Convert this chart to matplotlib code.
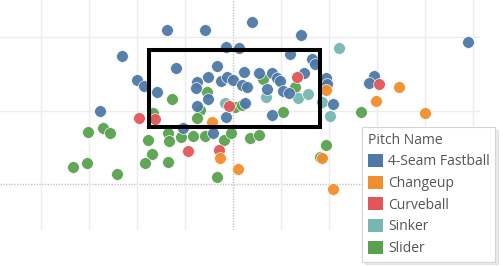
import matplotlib.pyplot as plt
import numpy as np
from matplotlib.patches import Patch, Rectangle

plt.rcParams['font.family'] = ['Open Sans', 'DejaVu Sans']

# horizontal / vertical break (inches)
fastball_x = [-6.85, -2.89, 2.00, 7.10, 24.48, -11.53, -0.71, 0.65, 5.95, 8.24, 8.56, -5.91,
              -1.64, 1.17, 2.73, 4.08, 4.60, 4.91, 7.41, 9.70, 9.81, -2.58, -3.73, -3.83,
              -1.23, -0.60, 0.02, 0.96, 1.48, -9.97, -9.24, -7.89, 3.56, 5.23, 5.85, -2.58,
              -3.73, 1.27, -0.71, 4.08, 10.43, -5.18, -2.06, -13.82, 14.70, 14.18]
fastball_y = [10.50, 10.50, 11.04, 10.16, 9.68, 8.73, 9.34, 9.27, 8.86, 8.52, 8.18, 7.91,
              8.04, 7.64, 7.57, 7.57, 7.23, 7.02, 7.57, 7.23, 6.82, 7.29, 6.95, 6.54,
              7.02, 7.29, 7.09, 6.75, 6.61, 7.09, 6.68, 6.27, 6.48, 6.34, 6.20, 5.79,
              5.32, 5.52, 4.57, 4.70, 5.45, 3.82, 3.48, 4.98, 7.36, 6.89]

changeup_x = [9.70, -2.17, -1.33, 0.54, 9.29, 10.43, 17.30, 14.91, 20.01]
changeup_y = [6.41, 4.23, 1.77, 1.02, 1.77, -0.34, 6.61, 5.66, 4.84]

curveball_x = [6.68, -0.40, -9.76, -8.10, 15.22, -4.66, -1.44]
curveball_y = [7.29, 5.32, 4.50, 4.43, 6.82, 2.25, 2.32]

sinker_x = [11.06, -0.81, 3.46, 6.79, 7.83, 9.29, 10.12]
sinker_y = [9.27, 5.52, 5.93, 5.86, 6.14, 5.59, 4.64]

slider_x = [3.14, 6.48, -2.69, -6.33, -3.41, -3.73, 0.23, 0.96, 5.23, -8.31, -15.07, -13.51,
            -12.78, -16.63, -15.18, -12.05, -8.83, -8.41, -9.14, -6.75, -6.75, -6.64, -5.39,
            -4.14, -2.89, -0.92, -0.19, 1.79, 2.73, -1.64, 9.70, 9.08, 13.35]
slider_y = [7.16, 6.61, 6.27, 5.79, 5.04, 4.50, 5.25, 5.39, 4.91, 4.84, 3.54, 3.82,
            3.48, 1.16, 1.43, 0.68, 3.00, 2.05, 1.43, 1.50, 3.48, 2.93, 3.20,
            3.27, 3.27, 3.00, 3.48, 3.14, 3.34, 0.48, 2.66, 1.84, 4.91]

pitch_names = ['4-Seam Fastball', 'Changeup', 'Curveball', 'Sinker', 'Slider']
pitch_colors = ['#4e79a7', '#f28e2b', '#e15759', '#76b7b2', '#59a14f']

zone_left, zone_right = -8.72, 9.08
zone_bottom, zone_top = 3.89, 9.13

fig = plt.figure(figsize=(5.03, 2.66), dpi=100)
ax = fig.add_axes([0, 36 / 266, 480 / 503, 230 / 266])

series = {
    'Slider': (slider_x, slider_y),
    'Sinker': (sinker_x, sinker_y),
    '4-Seam Fastball': (fastball_x, fastball_y),
    'Curveball': (curveball_x, curveball_y),
    'Changeup': (changeup_x, changeup_y),
}
color_of = dict(zip(pitch_names, pitch_colors))
for name, (xs, ys) in series.items():
    ax.scatter(xs, ys, s=72, color=color_of[name], edgecolors='white',
               linewidths=0.5, alpha=0.95, zorder=3)

ax.add_patch(Rectangle((zone_left, zone_bottom), zone_right - zone_left,
                       zone_top - zone_bottom, fill=False, edgecolor='black',
                       linewidth=2.9, zorder=5))

ax.set_xlim(-24.23, 25.73)
ax.set_ylim(-3.14, 12.54)
ax.set_xticks([v for v in range(-20, 30, 5) if v != 0])
ax.set_yticks([5, 10])
ax.grid(True, color='#ececec', linewidth=1, zorder=0)
ax.axvline(0, color='#c4c4c4', linestyle=(0, (1, 1)), linewidth=1, zorder=1)
ax.axhline(0, color='#c4c4c4', linestyle=(0, (1, 1)), linewidth=1, zorder=1)
ax.tick_params(length=0, labelbottom=False, labelleft=False)
for s in ax.spines.values():
    s.set_visible(False)

handles = [Patch(facecolor=c, edgecolor='none') for c in pitch_colors]
leg = fig.legend(handles, pitch_names, title='Pitch Name', loc='upper left',
                 bbox_to_anchor=(362 / 503, 1 - 127 / 266), borderaxespad=0,
                 fontsize=10, title_fontsize=10, alignment='left',
                 handlelength=1.08, handleheight=1.08, handletextpad=0.4,
                 labelspacing=0.46, borderpad=0.4, fancybox=False,
                 frameon=True, framealpha=1,
                 shadow={'color': 'black', 'alpha': 0.08})
leg.get_frame().set_edgecolor('#d4d4d4')
leg.get_frame().set_linewidth(0.8)
for t in leg.get_texts():
    t.set_color('#555555')
leg.get_title().set_color('#555555')

fig.savefig('out.png', dpi=100)
